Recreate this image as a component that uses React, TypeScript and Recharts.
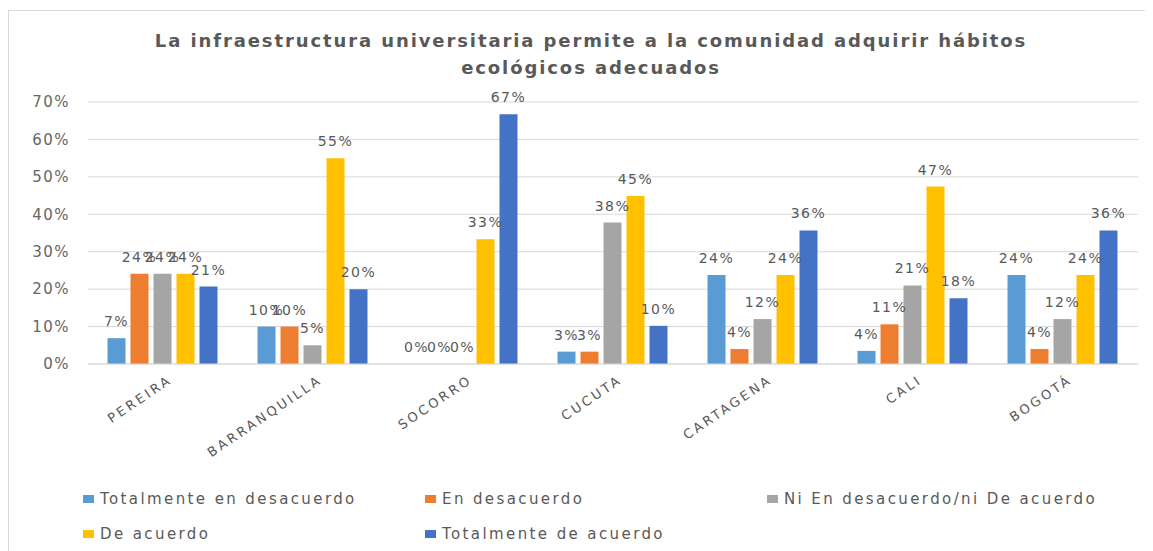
import { BarChart, Bar, XAxis, YAxis, CartesianGrid, Legend, LabelList } from "recharts";

const cities = ["PEREIRA", "BARRANQUILLA", "SOCORRO", "CUCUTA", "CARTAGENA", "CALI", "BOGOTÁ"];

const totalDesacuerdo = [0.069, 0.1, 0, 0.033, 0.238, 0.035, 0.238];
const enDesacuerdo = [0.241, 0.1, 0, 0.033, 0.04, 0.106, 0.04];
const niNi = [0.241, 0.05, 0, 0.378, 0.12, 0.21, 0.12];
const deAcuerdo = [0.241, 0.55, 0.333, 0.449, 0.238, 0.474, 0.238];
const totalAcuerdo = [0.207, 0.2, 0.667, 0.102, 0.357, 0.176, 0.357];

const yTicks = [0, 0.1, 0.2, 0.3, 0.4, 0.5, 0.6, 0.7];

const series = [
  { key: "td", name: "Totalmente en desacuerdo", color: "#5B9BD5", values: totalDesacuerdo },
  { key: "ed", name: "En desacuerdo", color: "#ED7D31", values: enDesacuerdo },
  { key: "nn", name: "Ni En desacuerdo/ni De acuerdo", color: "#A5A5A5", values: niNi },
  { key: "da", name: "De acuerdo", color: "#FFC000", values: deAcuerdo },
  { key: "ta", name: "Totalmente de acuerdo", color: "#4472C4", values: totalAcuerdo },
];

const data = cities.map((city, i) => {
  const row: Record<string, string | number> = { city };
  series.forEach((s) => (row[s.key] = s.values[i]));
  return row;
});

const FONT = "'DejaVu Sans', sans-serif";
const pct = (v: number) => `${Math.round(v * 100)}%`;

const CityTick = ({ x, y, payload }: any) => {
  const ax = x + 10;
  const ay = y + 10;
  return (
    <text
      x={ax}
      y={ay}
      transform={`rotate(-34, ${ax}, ${ay})`}
      textAnchor="end"
      fill="#595959"
      fontSize={13}
      fontFamily={FONT}
      letterSpacing={2.8}
    >
      {payload.value}
    </text>
  );
};

// legend keeps the series order (row 1: three items, row 2: two)
const LegendBox = () => (
  <div
    style={{
      display: "grid",
      gridTemplateColumns: "342px 342px 342px",
      fontFamily: FONT,
      fontSize: 15,
      letterSpacing: 2.4,
      color: "#595959",
    }}
  >
    {series.map((s) => (
      <div key={s.key} style={{ display: "flex", alignItems: "center", height: 35, whiteSpace: "nowrap" }}>
        <span style={{ display: "inline-block", width: 11, height: 8, background: s.color, marginRight: 6 }} />
        {s.name}
      </div>
    ))}
  </div>
);

export default function App() {
  return (
    <div
      style={{
        position: "relative",
        width: 1140,
        height: 541,
        marginTop: 2,
        border: "1px solid #d9d9d9",
        background: "#fff",
        fontFamily: FONT,
      }}
    >
      <div
        style={{
          position: "absolute",
          top: 16,
          left: 24,
          right: 0,
          textAlign: "center",
          fontWeight: "bold",
          fontSize: 18,
          lineHeight: "27px",
          letterSpacing: 1.9,
          color: "#595959",
        }}
      >
        <div>La infraestructura universitaria permite a la comunidad adquirir hábitos</div>
        <div>ecológicos adecuados</div>
      </div>
      <div style={{ position: "absolute", top: 0, left: 0 }}>
        <BarChart
          width={1138}
          height={541}
          data={data}
          margin={{ top: 91, right: 9, left: 0, bottom: 88 }}
          barCategoryGap="13%"
          barGap={5}
        >
          <CartesianGrid vertical={false} stroke="#d9d9d9" />
          <XAxis
            dataKey="city"
            axisLine={{ stroke: "#d9d9d9" }}
            tickLine={false}
            interval={0}
            height={100}
            tick={<CityTick />}
          />
          <YAxis
            width={79}
            domain={[0, 0.7]}
            ticks={yTicks}
            tickFormatter={pct}
            axisLine={false}
            tickLine={false}
            tickMargin={12}
            tick={{ fill: "#666", fontSize: 15, fontFamily: FONT, letterSpacing: 1.5 }}
          />
          <Legend
            layout="vertical"
            align="center"
            verticalAlign="middle"
            wrapperStyle={{ top: 470, left: 74, width: 1040 }}
            content={<LegendBox />}
          />
          {series.map((s) => (
            <Bar
              key={s.key}
              dataKey={s.key}
              name={s.name}
              fill={s.color}
              minPointSize={(v: number) => (v === 0 ? 0.01 : 0)}
              isAnimationActive={false}
            >
              <LabelList
                dataKey={s.key}
                position="top"
                offset={12}
                formatter={(v: any) => pct(Number(v))}
                fill="#595959"
                fontSize={14}
                fontFamily={FONT}
                letterSpacing={1.5}
              />
            </Bar>
          ))}
        </BarChart>
      </div>
    </div>
  );
}
